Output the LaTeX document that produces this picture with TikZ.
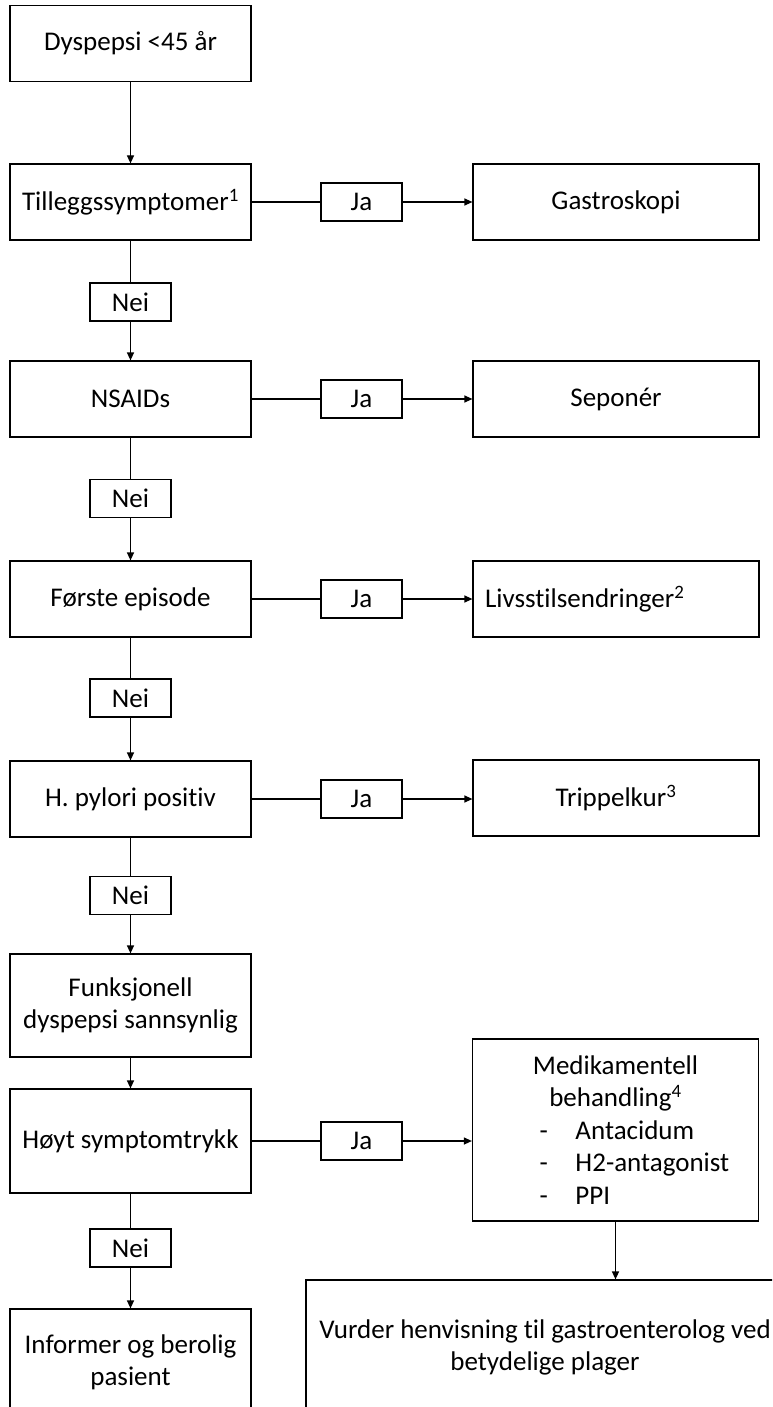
\documentclass[tikz,border=0pt]{standalone}
\usepackage{fontspec}
\setmainfont{Carlito}[Ligatures={NoCommon}]
\usetikzlibrary{arrows.meta}
\begin{document}
\begin{tikzpicture}[x=1pt,y=-1pt,
  every node/.style={font=\fontsize{27}{32.5}\selectfont, inner sep=2pt},
  box/.style={draw, line width=1.2pt, minimum width=241pt, minimum height=76pt, align=center},
  rbox/.style={draw, line width=1.2pt, minimum width=286pt, minimum height=76pt, align=center},
  lab/.style={draw, line width=1.2pt, minimum width=81pt, minimum height=38pt},
  conn/.style={line width=1.2pt},
  arr/.style={line width=1.2pt, -{Triangle[length=8pt,width=7pt]}}]
\clip (0,0) rectangle (772,1407);
\fill[white] (0,0) rectangle (772,1407);

% left column
\node[box] (b1) at (130.5,43.5) {Dyspepsi <45 år};
\node[box] (b2) at (130.5,202) {Tilleggssymptomer\textsuperscript{1}};
\node[lab] (n1) at (130.5,302) {Nei};
\node[box] (b3) at (130.5,399) {NSAIDs};
\node[lab] (n2) at (130.5,498.5) {Nei};
\node[box] (b4) at (130.5,599) {Første episode};
\node[lab] (n3) at (130.5,698) {Nei};
\node[box] (b5) at (130.5,799) {H. pylori positiv};
\node[lab] (n4) at (130.5,895.5) {Nei};
\node[box, minimum height=103pt] (b6) at (130.5,1005.5) {Funksjonell\\dyspepsi sannsynlig};
\node[box, minimum height=104pt] (b7) at (130.5,1141) {Høyt symptomtrykk};
\node[lab] (n5) at (130.5,1248) {Nei};
\node[box, minimum height=107pt] (b8) at (130.5,1362.5) {Informer og berolig\\pasient};

% Ja labels
\node[lab] (j1) at (361.5,202) {Ja};
\node[lab] (j2) at (361.5,399) {Ja};
\node[lab] (j3) at (361.5,599) {Ja};
\node[lab] (j4) at (361.5,799) {Ja};
\node[lab] (j5) at (361.5,1141) {Ja};

% right column
\node[rbox] (r1) at (616,202) {Gastroskopi};
\node[rbox] (r2) at (616,399) {Seponér};
\node[rbox, text width=262pt, inner xsep=12pt, align=left] (r3) at (616,599) {Livsstilsendringer\textsuperscript{2}};
\node[rbox] (r4) at (616,798) {Trippelkur\textsuperscript{3}};
\node[rbox, minimum height=182pt] (med) at (615.5,1130) {%
\makebox[280pt][c]{Medikamentell}\\
\makebox[280pt][c]{behandling\textsuperscript{4}}\\
\makebox[280pt][l]{\hspace*{64pt}\makebox[36pt][l]{-}Antacidum}\\
\makebox[280pt][l]{\hspace*{64pt}\makebox[36pt][l]{-}H2-antagonist}\\
\makebox[280pt][l]{\hspace*{64pt}\makebox[36pt][l]{-}PPI}};
\node[draw, line width=1.2pt, minimum width=478pt, minimum height=135pt, align=center, inner sep=0pt] (vur) at (545,1347.5) {Vurder henvisning til gastroenterolog ved\\betydelige plager};

% vertical connectors
\draw[arr] (b1) -- (b2);
\draw[conn] (b2) -- (n1);
\draw[arr] (n1) -- (b3);
\draw[conn] (b3) -- (n2);
\draw[arr] (n2) -- (b4);
\draw[conn] (b4) -- (n3);
\draw[arr] (n3) -- (b5);
\draw[conn] (b5) -- (n4);
\draw[arr] (n4) -- (b6);
\draw[arr] (b6) -- (b7);
\draw[conn] (b7) -- (n5);
\draw[arr] (n5) -- (b8);

% horizontal connectors
\draw[conn] (b2) -- (j1);
\draw[arr] (j1) -- (r1);
\draw[conn] (b3) -- (j2);
\draw[arr] (j2) -- (r2);
\draw[conn] (b4) -- (j3);
\draw[arr] (j3) -- (r3);
\draw[conn] (b5) -- (j4);
\draw[arr] (j4) -- (j4 -| r4.west);
\draw[conn] (b7) -- (j5);
\draw[arr] (j5) -- (j5 -| med.west);
\draw[arr] (med.south) -- (med.south |- vur.north);
\end{tikzpicture}
\end{document}
